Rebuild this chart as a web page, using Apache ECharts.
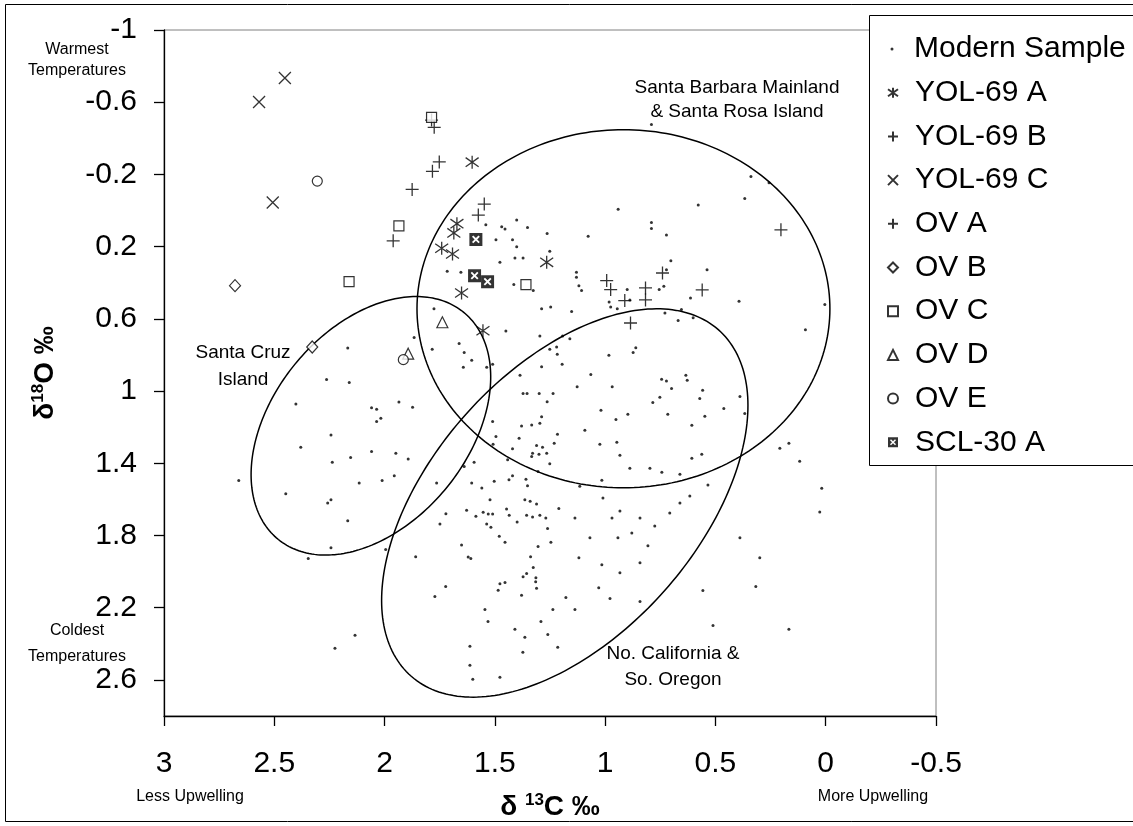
<!DOCTYPE html>
<html><head><meta charset="utf-8">
<script src="https://cdn.jsdelivr.net/npm/echarts@6/dist/echarts.min.js"></script>
<style>html,body{margin:0;padding:0;background:#fff}#c{width:1133px;height:826px}</style>
</head><body><div id="c"></div><script>
// ---- tick labels ----
const xTicks = [3, 2.5, 2, 1.5, 1, 0.5, 0, -0.5];
const yTicks = [-1, -0.6, -0.2, 0.2, 0.6, 1, 1.4, 1.8, 2.2, 2.6];

// ---- series values [d13C, d18O] ----
const modernSample = [
[0.790,-0.476],[0.339,-0.188],[0.257,-0.154],[0.367,-0.066],[0.578,-0.031],[0.941,-0.007],[0.790,0.066],[0.790,0.099],[0.722,0.135],[1.077,0.143],
[1.401,0.052],[1.352,0.094],[1.469,0.090],[1.454,0.103],[1.541,0.079],[1.263,0.127],[1.495,0.162],[1.420,0.162],[1.401,0.201],[1.251,0.226],
[1.409,0.263],[1.372,0.263],[1.477,0.287],[1.716,0.336],[1.654,0.342],[1.414,0.410],[1.326,0.443],[1.130,0.342],[1.130,0.370],[1.119,0.416],
[1.107,0.443],[0.702,0.278],[0.538,0.328],[0.722,0.328],[0.734,0.419],[0.755,0.438],[0.900,0.438],[0.888,0.495],[0.982,0.507],[0.975,0.535],
[0.945,0.544],[0.613,0.485],[0.393,0.502],[0.004,0.521],[0.092,0.660],[1.288,0.544],[1.247,0.535],[1.152,0.559],[0.729,0.568],[0.654,0.548],
[0.669,0.609],[0.601,0.594],[1.776,0.544],[1.866,0.703],[1.784,0.769],[1.662,0.737],[1.639,0.787],[1.605,0.830],[1.643,0.868],[1.537,0.868],
[1.510,0.852],[1.450,0.667],[1.296,0.695],[1.220,0.756],[1.251,0.769],[1.193,0.695],[1.160,0.710],[1.217,0.796],[1.195,0.852],[1.288,0.866],
[0.983,0.802],[0.861,0.760],[0.873,0.787],[1.065,0.908],[1.386,0.912],[1.372,1.013],[1.354,1.013],[1.299,1.013],[1.236,1.013],[1.127,0.976],
[0.968,0.976],[0.744,0.934],[0.722,0.945],[0.699,0.986],[0.634,0.912],[0.628,0.940],[0.558,0.995],
[2.167,0.761],[2.263,0.936],[2.160,0.953],[2.402,1.072],[2.059,1.092],[2.036,1.101],[2.017,1.151],[2.036,1.169],[1.935,1.061],[1.873,1.090],
[1.263,1.059],[1.288,1.142],[1.296,1.179],[1.333,1.188],[1.379,1.194],[1.510,1.169],[1.495,1.252],[1.508,1.295],[1.390,1.261],[1.420,1.320],
[1.311,1.302],[1.284,1.311],[1.231,1.289],[1.329,1.344],[1.300,1.350],[1.265,1.344],[1.333,1.362],[1.251,1.403],[1.304,1.445],[1.442,1.381],
[1.639,1.418],[1.594,1.395],[2.243,1.243],[2.380,1.311],[2.059,1.335],[1.949,1.344],[2.237,1.394],[2.154,1.368],[1.893,1.377],[2.661,1.495],
[2.115,1.510],[2.011,1.495],[1.956,1.469],[2.448,1.569],[2.243,1.602],[2.258,1.620],[2.167,1.718],[2.243,1.868],[2.346,1.927],[1.995,1.878],
[1.859,1.918],[1.764,1.510],[1.722,1.679],[1.749,1.736],[1.651,1.853],[1.621,1.919],[1.609,1.927],[1.723,2.083],[1.772,2.138],[1.605,1.510],
[1.559,1.537],[1.503,1.500],[1.436,1.491],[1.420,1.469],[1.359,1.488],[1.352,1.525],[1.522,1.602],[1.364,1.602],[1.340,1.610],[1.311,1.625],
[1.210,1.651],[1.628,1.660],[1.586,1.693],[1.553,1.671],[1.530,1.681],[1.510,1.681],[1.537,1.736],[1.518,1.754],[1.447,1.653],[1.435,1.688],
[1.399,1.726],[1.356,1.688],[1.329,1.697],[1.296,1.688],[1.269,1.703],[1.261,1.762],[1.480,1.804],[1.454,1.837],[1.304,1.861],[1.246,1.837],
[1.338,1.918],[1.326,1.978],[1.372,2.028],[1.356,2.010],[1.314,2.034],[1.315,2.056],[1.477,2.067],[1.454,2.061],[1.485,2.104],[1.379,2.131],
[1.311,2.093],[1.216,1.239],
[1.019,1.107],[0.951,1.157],[0.897,1.129],[0.784,1.063],[0.752,1.035],[0.716,1.129],[0.571,1.041],[0.548,1.140],[0.607,1.190],[0.462,1.096],
[0.389,1.030],[0.367,1.124],[1.092,1.217],[1.024,1.295],[0.947,1.284],[0.933,1.355],[0.888,1.428],[0.797,1.428],[0.743,1.450],[0.661,1.461],
[0.607,1.372],[0.562,1.350],[1.115,1.527],[1.015,1.494],[1.010,1.593],[0.969,1.703],[0.933,1.664],[0.942,1.813],[0.842,1.703],[0.879,1.786],
[0.806,1.857],[0.775,1.747],[0.707,1.676],[0.661,1.620],[0.616,1.582],[0.534,1.521],[1.119,1.923],[1.015,1.962],[0.933,2.006],[0.842,1.951],
[1.029,2.089],[0.978,2.149],[0.842,2.166],[1.237,2.210],[1.291,2.276],[1.260,2.348],[1.409,2.320],[1.364,2.364],[1.373,2.447],[1.477,2.585],
[1.545,2.210],[1.531,2.276],[1.613,2.414],[1.613,2.519],[1.600,2.596],[0.208,1.317],[0.167,1.289],[0.118,1.389],[0.018,1.538],[0.027,1.670],
[0.317,2.083],[0.557,2.105],[0.511,2.298],[0.167,2.320],[0.299,1.923],[0.389,1.813],[1.137,1.703],[1.069,1.813],[1.178,2.144],[1.137,2.210],
[1.215,2.419],[2.134,2.353],[2.225,2.425]
];
const yol69A = [[1.603,-0.268],[1.672,0.073],[1.686,0.124],[1.741,0.209],[1.692,0.241],[1.651,0.457],[1.265,0.287],[1.554,0.666]];
const yol69B = [[1.787,-0.501],[1.775,-0.461],[1.752,-0.269],[1.783,-0.217],[1.875,-0.117],[1.961,0.168]];
const yol69C = [[2.452,-0.734],[2.569,-0.601],[2.507,-0.044]];
const ovA = [[1.548,-0.036],[1.575,0.025],[0.993,0.388],[0.975,0.438],[0.911,0.499],[0.817,0.429],[0.817,0.495],[0.740,0.346],[0.560,0.440],[0.885,0.623],[0.203,0.107]];
const ovB = [[2.678,0.416],[2.328,0.756]];
const ovC = [[2.161,0.394],[1.935,0.085],[1.787,-0.516],[1.359,0.410]];
const ovD = [[1.738,0.619],[1.893,0.793]];
const ovE = [[2.305,-0.163],[1.915,0.826]];
const scl30A = [[1.586,0.160],[1.592,0.361],[1.533,0.394]];

// ---- region ellipses: centre and two conjugate semi-axis end points (data units) ----
const ellipseNames = ['Santa Barbara Mainland & Santa Rosa Island', 'No. California & So. Oregon', 'Santa Cruz Island'];
const ellipseCentre = [[0.917, 0.544], [1.183, 1.620], [2.062, 1.1925]];
const ellipseAxisA = [[-0.019, 0.544], [0.487, 0.660], [1.6425, 0.5626]];
const ellipseAxisB = [[0.917, -0.448], [0.730, 2.105], [1.717, 1.5328]];

const FONT = 'Liberation Sans, Arial, sans-serif';
const ASTER = 'path://M0 1.5L10 8.5M10 1.5L0 8.5M5 0L5 10';
const PLUS = 'path://M0 5L10 5M5 0L5 10';
const CROSS = 'path://M0 0L10 10M10 0L0 10';
const SCL = 'path://M0 0L10 0L10 10L0 10Z M2 3L4 5L2 7L3 8L5 6L7 8L8 7L6 5L8 3L7 2L5 4L3 2Z';

const strokeStyle = {color: '#000', borderColor: '#000', borderWidth: 1.3};
const hollowStyle = {color: '#fff', borderColor: '#000', borderWidth: 1.2};

function sc(name, data, symbol, size, style) {
  return {type: 'scatter', name, data, symbol, symbolSize: size, itemStyle: style, z: 4, silent: true};
}

const ellipseData = ellipseCentre.map((c, i) => [c[0], c[1], ellipseAxisA[i][0], ellipseAxisA[i][1], ellipseAxisB[i][0], ellipseAxisB[i][1]]);

const chart = echarts.init(document.getElementById('c'), null, {renderer: 'canvas'});
const labelFont = {fontFamily: FONT, color: '#000'};
function txt(x, y, s, size) {
  return {type: 'text', x, y, z: 6, style: {text: s, fontSize: size, fontFamily: FONT, fill: '#000', align: 'center', verticalAlign: 'middle'}};
}
const titleRich = {
  d: {fontSize: 28, fontWeight: 'bold', fontFamily: FONT, color: '#000', lineHeight: 30},
  s: {fontSize: 17, fontWeight: 'bold', fontFamily: FONT, color: '#000', verticalAlign: 'top', lineHeight: 17}
};
chart.setOption({
  animation: false,
  backgroundColor: '#fff',
  grid: {left: 164, top: 30, right: 197, bottom: 107, show: true, borderColor: '#808080', borderWidth: 1},
  xAxis: {
    type: 'value', min: -0.5, max: 3, inverse: true,
    axisLine: {onZero: false, lineStyle: {color: '#000', width: 1.3}},
    axisTick: {show: true, length: 10, customValues: xTicks, lineStyle: {color: '#000', width: 1.3}},
    axisLabel: {customValues: xTicks, fontSize: 30, margin: 33, ...labelFont},
    splitLine: {show: false},
    name: '{d|δ }{s|13}{d|C ‰}', nameLocation: 'middle', nameGap: 76,
    nameTextStyle: {rich: titleRich}
  },
  yAxis: {
    type: 'value', min: -1, max: 2.8, inverse: true,
    axisLine: {onZero: false, lineStyle: {color: '#000', width: 1.3}},
    axisTick: {show: true, length: 10, customValues: yTicks, lineStyle: {color: '#000', width: 1.3}},
    axisLabel: {customValues: yTicks, fontSize: 30, margin: 27, ...labelFont},
    splitLine: {show: false},
    name: '{d|δ}{s|18}{d|O ‰}', nameLocation: 'middle', nameGap: 104, nameRotate: 90,
    nameTextStyle: {rich: titleRich}
  },
  legend: [
    {data: ['Modern Sample'], orient: 'vertical', left: 885.5, top: 29, itemWidth: 3, itemHeight: 3, z: 10, selectedMode: false,
     textStyle: {fontSize: 30, lineHeight: 30, fontFamily: FONT, color: '#000', padding: [0, 0, 0, 15.5]}},
    {data: ['YOL-69 A', 'YOL-69 B', 'YOL-69 C', 'OV A', 'OV B', 'OV C', 'OV D', 'OV E', 'SCL-30 A'], orient: 'vertical',
     left: 882, top: 72.7, itemWidth: 10, itemHeight: 10, itemGap: 13.7, z: 10, selectedMode: false,
     textStyle: {fontSize: 30, lineHeight: 30, fontFamily: FONT, color: '#000', padding: [0, 0, 0, 12]}}
  ],
  graphic: [
    {type: 'rect', shape: {x: 869.5, y: 15.5, width: 300, height: 450}, z: 5, style: {fill: '#fff', stroke: '#000', lineWidth: 1}},
    {type: 'rect', shape: {x: 5.5, y: 4.5, width: 1160, height: 817}, z: 5, style: {fill: 'none', stroke: '#000', lineWidth: 1}},
    txt(737, 88, 'Santa Barbara Mainland', 19), txt(737, 112, '& Santa Rosa Island', 19),
    txt(243, 353, 'Santa Cruz', 19), txt(243, 380, 'Island', 19),
    txt(673, 654, 'No. California &', 19), txt(673, 680, 'So. Oregon', 19),
    txt(77, 50, 'Warmest', 16), txt(77, 71, 'Temperatures', 16),
    txt(77, 631, 'Coldest', 16), txt(77, 657, 'Temperatures', 16),
    txt(190, 797, 'Less Upwelling', 16), txt(873, 797, 'More Upwelling', 16)
  ],
  series: [
    {type: 'custom', name: 'regions', data: ellipseData, silent: true, z: 3,
     encode: {x: [0, 2, 4], y: [1, 3, 5]},
     renderItem(params, api) {
       const c = api.coord([api.value(0), api.value(1)]);
       const a = api.coord([api.value(2), api.value(3)]);
       const b = api.coord([api.value(4), api.value(5)]);
       const ux = a[0] - c[0], uy = a[1] - c[1], vx = b[0] - c[0], vy = b[1] - c[1];
       const pts = [];
       for (let i = 0; i < 240; i++) {
         const t = i / 240 * 2 * Math.PI;
         pts.push([c[0] + ux * Math.cos(t) + vx * Math.sin(t), c[1] + uy * Math.cos(t) + vy * Math.sin(t)]);
       }
       return {type: 'polygon', shape: {points: pts}, style: {fill: 'none', stroke: '#000', lineWidth: 1.5}};
     }},
    sc('Modern Sample', modernSample, 'circle', 3, {color: '#000'}),
    sc('YOL-69 A', yol69A, ASTER, 13, strokeStyle),
    sc('YOL-69 B', yol69B, PLUS, 13, strokeStyle),
    sc('YOL-69 C', yol69C, CROSS, 12, strokeStyle),
    sc('OV A', ovA, PLUS, 13, strokeStyle),
    sc('OV B', ovB, 'diamond', [11, 12], hollowStyle),
    sc('OV C', ovC, 'rect', 10, hollowStyle),
    sc('OV D', ovD, 'triangle', 11, hollowStyle),
    sc('OV E', ovE, 'circle', 10, hollowStyle),
    sc('SCL-30 A', scl30A, SCL, 13, {color: '#000', borderWidth: 0})
  ]
});
</script></body></html>
